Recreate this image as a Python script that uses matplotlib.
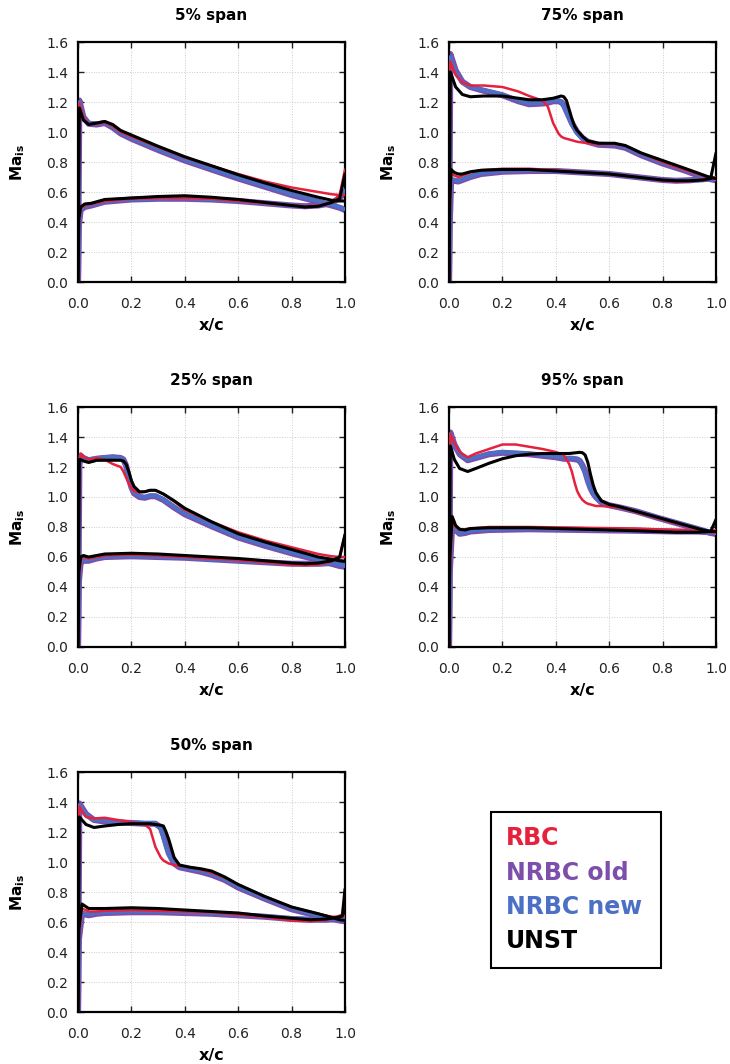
import matplotlib
matplotlib.use('Agg')
import matplotlib.pyplot as plt
from matplotlib.patches import Rectangle

plt.rcParams['font.family'] = ['DejaVu Sans']
plt.rcParams['mathtext.fontset'] = 'custom'
plt.rcParams['mathtext.rm'] = 'DejaVu Sans'
plt.rcParams['mathtext.bf'] = 'DejaVu Sans:bold'

# ── isentropic Mach number, suction side (SS) and pressure side (PS) ─────────
# 5% span
X_SS_05 = [0, 0.005, 0.02, 0.04, 0.07, 0.1, 0.13, 0.16, 0.2, 0.3, 0.4, 0.5,
           0.6, 0.7, 0.8, 0.9, 0.95, 0.98, 1.0]
RBC_SS_05 = [0, 1.19, 1.10, 1.05, 1.055, 1.065, 1.04, 1.00, 0.97, 0.90, 0.83,
             0.775, 0.72, 0.67, 0.63, 0.60, 0.585, 0.58, 0.58]
OLD_SS_05 = [0, 1.21, 1.10, 1.055, 1.05, 1.06, 1.03, 0.99, 0.955, 0.88, 0.81,
             0.75, 0.69, 0.635, 0.58, 0.535, 0.51, 0.495, 0.48]
NEW_SS_05 = [0, 1.20, 1.10, 1.06, 1.055, 1.065, 1.035, 0.995, 0.96, 0.885,
             0.815, 0.755, 0.695, 0.64, 0.585, 0.54, 0.515, 0.50, 0.485]
UNST_SS_05 = [0, 1.16, 1.08, 1.05, 1.06, 1.07, 1.05, 1.01, 0.98, 0.905, 0.835,
              0.775, 0.715, 0.66, 0.61, 0.565, 0.545, 0.54, 0.54]
X_PS_05 = [0, 0.003, 0.01, 0.025, 0.05, 0.1, 0.2, 0.3, 0.4, 0.5, 0.6, 0.7,
           0.8, 0.85, 0.9, 0.95, 0.98, 1.0]
RBC_PS_05 = [0, 0.40, 0.49, 0.51, 0.52, 0.54, 0.555, 0.56, 0.56, 0.555, 0.54,
             0.525, 0.51, 0.505, 0.51, 0.53, 0.58, 0.75]
OLD_PS_05 = [0, 0.38, 0.48, 0.50, 0.51, 0.535, 0.55, 0.555, 0.555, 0.55, 0.54,
             0.525, 0.51, 0.505, 0.51, 0.525, 0.56, 0.60]
NEW_PS_05 = [0, 0.39, 0.485, 0.505, 0.515, 0.54, 0.55, 0.555, 0.56, 0.55, 0.54,
             0.525, 0.51, 0.505, 0.51, 0.53, 0.57, 0.61]
UNST_PS_05 = [0, 0.42, 0.50, 0.52, 0.525, 0.55, 0.56, 0.57, 0.575, 0.565, 0.55,
              0.53, 0.51, 0.50, 0.505, 0.53, 0.555, 0.72]

# 25% span
X_SS_25 = [0, 0.005, 0.01, 0.02, 0.04, 0.07, 0.1, 0.13, 0.16, 0.17, 0.18, 0.19,
           0.2, 0.21, 0.23, 0.25, 0.27, 0.29, 0.32, 0.36, 0.4, 0.5, 0.6, 0.7,
           0.8, 0.9, 0.95, 0.98, 1.0]
RBC_SS_25 = [0, 1.22, 1.29, 1.27, 1.25, 1.26, 1.25, 1.22, 1.20, 1.17, 1.13,
             1.09, 1.06, 1.04, 1.03, 1.035, 1.045, 1.045, 1.02, 0.97, 0.915,
             0.835, 0.765, 0.71, 0.665, 0.62, 0.605, 0.60, 0.60]
OLD_SS_25 = [0, 1.21, 1.275, 1.26, 1.245, 1.255, 1.26, 1.265, 1.26, 1.25, 1.21,
             1.13, 1.065, 1.025, 1.0, 0.995, 1.005, 1.005, 0.98, 0.93, 0.885,
             0.805, 0.73, 0.675, 0.625, 0.58, 0.555, 0.54, 0.535]
NEW_SS_25 = [0, 1.20, 1.28, 1.265, 1.25, 1.26, 1.265, 1.265, 1.26, 1.25, 1.20,
             1.12, 1.06, 1.03, 1.005, 1.00, 1.01, 1.01, 0.985, 0.935, 0.89,
             0.81, 0.735, 0.68, 0.63, 0.585, 0.56, 0.545, 0.54]
UNST_SS_25 = [0, 1.25, 1.25, 1.24, 1.23, 1.245, 1.245, 1.245, 1.245, 1.24,
              1.22, 1.17, 1.11, 1.07, 1.035, 1.035, 1.045, 1.045, 1.02, 0.975,
              0.925, 0.835, 0.755, 0.70, 0.65, 0.60, 0.585, 0.575, 0.57]
X_PS_25 = [0, 0.003, 0.01, 0.02, 0.04, 0.07, 0.1, 0.2, 0.3, 0.4, 0.5, 0.6, 0.7,
           0.8, 0.85, 0.9, 0.95, 0.98, 1.0]
RBC_PS_25 = [0, 0.45, 0.58, 0.60, 0.59, 0.60, 0.61, 0.615, 0.61, 0.60, 0.59,
             0.58, 0.565, 0.55, 0.545, 0.55, 0.57, 0.60, 0.75]
OLD_PS_25 = [0, 0.43, 0.565, 0.575, 0.575, 0.59, 0.60, 0.605, 0.60, 0.595,
             0.585, 0.575, 0.565, 0.555, 0.555, 0.555, 0.56, 0.57, 0.56]
NEW_PS_25 = [0, 0.44, 0.57, 0.58, 0.58, 0.595, 0.60, 0.605, 0.60, 0.595, 0.585,
             0.575, 0.565, 0.555, 0.555, 0.555, 0.56, 0.57, 0.55]
UNST_PS_25 = [0, 0.50, 0.60, 0.61, 0.60, 0.61, 0.62, 0.625, 0.62, 0.61, 0.60,
              0.59, 0.575, 0.56, 0.555, 0.56, 0.575, 0.60, 0.75]

# 50% span
X_SS_50 = [0, 0.005, 0.03, 0.06, 0.1, 0.15, 0.2, 0.25, 0.27, 0.29, 0.31, 0.32,
           0.33, 0.34, 0.36, 0.38, 0.42, 0.46, 0.5, 0.55, 0.6, 0.7, 0.8, 0.9,
           0.95, 0.98, 1.0]
RBC_SS_50 = [0, 1.37, 1.30, 1.29, 1.295, 1.28, 1.265, 1.25, 1.22, 1.10, 1.03,
             1.01, 1.0, 0.99, 0.98, 0.975, 0.965, 0.95, 0.93, 0.895, 0.85, 0.77,
             0.70, 0.655, 0.635, 0.635, 0.64]
OLD_SS_50 = [0, 1.39, 1.32, 1.28, 1.27, 1.265, 1.26, 1.255, 1.255, 1.255, 1.23,
             1.18, 1.12, 1.06, 0.99, 0.965, 0.95, 0.935, 0.915, 0.88, 0.83,
             0.755, 0.685, 0.64, 0.62, 0.61, 0.605]
NEW_SS_50 = [0, 1.38, 1.32, 1.28, 1.275, 1.27, 1.265, 1.26, 1.26, 1.26, 1.22,
             1.16, 1.10, 1.05, 0.99, 0.97, 0.955, 0.94, 0.92, 0.885, 0.835,
             0.76, 0.69, 0.645, 0.625, 0.615, 0.61]
UNST_SS_50 = [0, 1.30, 1.25, 1.23, 1.24, 1.25, 1.255, 1.255, 1.255, 1.25,
              1.245, 1.24, 1.20, 1.15, 1.03, 0.98, 0.965, 0.955, 0.94, 0.90,
              0.85, 0.77, 0.70, 0.655, 0.63, 0.615, 0.61]
X_PS_50 = [0, 0.003, 0.015, 0.04, 0.07, 0.1, 0.2, 0.3, 0.4, 0.5, 0.6, 0.7, 0.8,
           0.87, 0.93, 0.97, 0.99, 1.0]
RBC_PS_50 = [0, 0.50, 0.69, 0.67, 0.67, 0.675, 0.68, 0.675, 0.67, 0.665, 0.65,
             0.635, 0.61, 0.605, 0.615, 0.635, 0.65, 0.78]
OLD_PS_50 = [0, 0.48, 0.655, 0.645, 0.655, 0.66, 0.665, 0.665, 0.66, 0.655,
             0.645, 0.635, 0.62, 0.615, 0.615, 0.62, 0.62, 0.62]
NEW_PS_50 = [0, 0.49, 0.66, 0.65, 0.66, 0.665, 0.67, 0.67, 0.665, 0.66, 0.65,
             0.64, 0.625, 0.62, 0.62, 0.625, 0.63, 0.63]
UNST_PS_50 = [0, 0.55, 0.72, 0.69, 0.69, 0.69, 0.695, 0.69, 0.68, 0.67, 0.66,
              0.64, 0.625, 0.615, 0.62, 0.63, 0.64, 0.82]

# 75% span
X_SS_75 = [0, 0.005, 0.025, 0.05, 0.08, 0.13, 0.2, 0.26, 0.3, 0.35, 0.37, 0.39,
           0.41, 0.42, 0.43, 0.44, 0.45, 0.46, 0.47, 0.48, 0.5, 0.52, 0.56,
           0.62, 0.66, 0.72, 0.8, 0.88, 0.95, 0.98, 1.0]
RBC_SS_75 = [0, 1.47, 1.38, 1.33, 1.31, 1.31, 1.30, 1.27, 1.24, 1.21, 1.17,
             1.06, 0.99, 0.97, 0.96, 0.955, 0.95, 0.945, 0.94, 0.935, 0.93,
             0.925, 0.92, 0.92, 0.91, 0.86, 0.80, 0.75, 0.71, 0.695, 0.69]
OLD_SS_75 = [0, 1.52, 1.41, 1.335, 1.30, 1.275, 1.245, 1.205, 1.185, 1.19,
             1.195, 1.205, 1.205, 1.20, 1.18, 1.14, 1.10, 1.06, 1.03, 1.00,
             0.96, 0.935, 0.915, 0.91, 0.895, 0.845, 0.79, 0.745, 0.70, 0.685,
             0.68]
NEW_SS_75 = [0, 1.50, 1.40, 1.33, 1.30, 1.28, 1.25, 1.21, 1.19, 1.195, 1.20,
             1.21, 1.21, 1.20, 1.17, 1.13, 1.09, 1.05, 1.02, 0.99, 0.955, 0.935,
             0.92, 0.915, 0.90, 0.85, 0.795, 0.75, 0.705, 0.69, 0.685]
UNST_SS_75 = [0, 1.40, 1.30, 1.25, 1.235, 1.24, 1.24, 1.225, 1.215, 1.215,
              1.22, 1.225, 1.235, 1.24, 1.235, 1.21, 1.15, 1.09, 1.04, 1.01,
              0.97, 0.94, 0.925, 0.925, 0.91, 0.86, 0.81, 0.76, 0.715, 0.695,
              0.69]
X_PS_75 = [0, 0.003, 0.008, 0.02, 0.035, 0.05, 0.08, 0.12, 0.2, 0.3, 0.4, 0.5,
           0.6, 0.7, 0.8, 0.85, 0.9, 0.95, 0.98, 1.0]
RBC_PS_75 = [0, 0.45, 0.72, 0.71, 0.70, 0.71, 0.73, 0.745, 0.755, 0.755, 0.745,
             0.73, 0.72, 0.70, 0.675, 0.67, 0.672, 0.685, 0.695, 0.70]
OLD_PS_75 = [0, 0.40, 0.68, 0.675, 0.67, 0.68, 0.70, 0.72, 0.735, 0.74, 0.74,
             0.73, 0.72, 0.70, 0.68, 0.675, 0.678, 0.685, 0.69, 0.68]
NEW_PS_75 = [0, 0.42, 0.69, 0.68, 0.675, 0.685, 0.705, 0.725, 0.74, 0.745,
             0.74, 0.73, 0.72, 0.70, 0.68, 0.675, 0.678, 0.685, 0.69, 0.685]
UNST_PS_75 = [0, 0.55, 0.75, 0.73, 0.72, 0.72, 0.735, 0.745, 0.75, 0.75, 0.74,
              0.73, 0.72, 0.70, 0.68, 0.675, 0.675, 0.68, 0.69, 0.86]

# 95% span
X_SS_95 = [0, 0.005, 0.02, 0.04, 0.07, 0.1, 0.15, 0.2, 0.25, 0.3, 0.35, 0.4,
           0.43, 0.45, 0.46, 0.47, 0.48, 0.49, 0.5, 0.51, 0.52, 0.53, 0.54,
           0.55, 0.57, 0.6, 0.64, 0.7, 0.78, 0.86, 0.94, 0.98, 1.0]
RBC_SS_95 = [0, 1.42, 1.36, 1.30, 1.265, 1.29, 1.32, 1.35, 1.35, 1.335, 1.32,
             1.30, 1.28, 1.22, 1.17, 1.10, 1.04, 1.005, 0.98, 0.965, 0.955,
             0.95, 0.945, 0.94, 0.94, 0.935, 0.93, 0.90, 0.86, 0.82, 0.785,
             0.765, 0.76]
OLD_SS_95 = [0, 1.43, 1.35, 1.285, 1.245, 1.26, 1.285, 1.295, 1.29, 1.285,
             1.275, 1.265, 1.255, 1.255, 1.255, 1.252, 1.25, 1.24, 1.21, 1.17,
             1.11, 1.06, 1.025, 1.0, 0.965, 0.945, 0.93, 0.905, 0.862, 0.822,
             0.782, 0.76, 0.755]
NEW_SS_95 = [0, 1.42, 1.35, 1.29, 1.25, 1.265, 1.29, 1.30, 1.295, 1.29, 1.28,
             1.27, 1.26, 1.26, 1.26, 1.258, 1.255, 1.245, 1.20, 1.16, 1.10,
             1.05, 1.02, 0.995, 0.965, 0.945, 0.93, 0.905, 0.865, 0.825, 0.785,
             0.765, 0.76]
UNST_SS_95 = [0, 1.34, 1.25, 1.19, 1.17, 1.19, 1.225, 1.255, 1.275, 1.285,
              1.29, 1.29, 1.29, 1.29, 1.292, 1.294, 1.296, 1.298, 1.295, 1.28,
              1.23, 1.15, 1.08, 1.03, 0.975, 0.95, 0.935, 0.905, 0.865, 0.825,
              0.785, 0.77, 0.77]
X_PS_95 = [0, 0.003, 0.012, 0.025, 0.04, 0.06, 0.08, 0.15, 0.3, 0.5, 0.7, 0.85,
           0.93, 0.98, 1.0]
RBC_PS_95 = [0, 0.50, 0.83, 0.80, 0.78, 0.785, 0.79, 0.80, 0.80, 0.795, 0.79,
             0.78, 0.775, 0.77, 0.78]
OLD_PS_95 = [0, 0.50, 0.82, 0.78, 0.755, 0.76, 0.77, 0.78, 0.785, 0.78, 0.775,
             0.77, 0.77, 0.765, 0.755]
NEW_PS_95 = [0, 0.50, 0.83, 0.785, 0.76, 0.765, 0.775, 0.785, 0.79, 0.785,
             0.775, 0.77, 0.77, 0.765, 0.76]
UNST_PS_95 = [0, 0.60, 0.87, 0.81, 0.785, 0.78, 0.79, 0.795, 0.795, 0.785,
              0.775, 0.765, 0.765, 0.77, 0.85]

CASES = ['NRBC old', 'NRBC new', 'RBC', 'UNST']   # drawing order
COLORS = {'RBC': '#e5213d', 'NRBC old': '#7d4fab',
          'NRBC new': '#4b70c6', 'UNST': '#000000'}
WIDTHS = {'RBC': 1.8, 'NRBC old': 4.4, 'NRBC new': 2.8, 'UNST': 2.2}

PANELS = [
    ('5% span', X_SS_05, X_PS_05,
     {'RBC': (RBC_SS_05, RBC_PS_05), 'NRBC old': (OLD_SS_05, OLD_PS_05),
      'NRBC new': (NEW_SS_05, NEW_PS_05), 'UNST': (UNST_SS_05, UNST_PS_05)}),
    ('75% span', X_SS_75, X_PS_75,
     {'RBC': (RBC_SS_75, RBC_PS_75), 'NRBC old': (OLD_SS_75, OLD_PS_75),
      'NRBC new': (NEW_SS_75, NEW_PS_75), 'UNST': (UNST_SS_75, UNST_PS_75)}),
    ('25% span', X_SS_25, X_PS_25,
     {'RBC': (RBC_SS_25, RBC_PS_25), 'NRBC old': (OLD_SS_25, OLD_PS_25),
      'NRBC new': (NEW_SS_25, NEW_PS_25), 'UNST': (UNST_SS_25, UNST_PS_25)}),
    ('95% span', X_SS_95, X_PS_95,
     {'RBC': (RBC_SS_95, RBC_PS_95), 'NRBC old': (OLD_SS_95, OLD_PS_95),
      'NRBC new': (NEW_SS_95, NEW_PS_95), 'UNST': (UNST_SS_95, UNST_PS_95)}),
    ('50% span', X_SS_50, X_PS_50,
     {'RBC': (RBC_SS_50, RBC_PS_50), 'NRBC old': (OLD_SS_50, OLD_PS_50),
      'NRBC new': (NEW_SS_50, NEW_PS_50), 'UNST': (UNST_SS_50, UNST_PS_50)}),
]

# axes rectangles in figure fractions (left, bottom, width, height)
W, H = 730, 1064
LEFTS = [78 / W, 449 / W]
TOPS = [42, 407, 772]
AX_W, AX_H = 267 / W, 240 / H


def draw_panel(ax, title, xs_ss, xs_ps, series):
    for k, case in enumerate(CASES):
        ss, ps = series[case]
        for xs, ys in ((xs_ss, ss), (xs_ps, ps)):
            ax.plot(xs, ys, color=COLORS[case], lw=WIDTHS[case],
                    solid_joinstyle='round', solid_capstyle='round',
                    zorder=2 + k)
    ax.set_xlim(0, 1)
    ax.set_ylim(0, 1.6)
    ax.set_xticks([0, 0.2, 0.4, 0.6, 0.8, 1.0])
    ax.set_yticks([0, 0.2, 0.4, 0.6, 0.8, 1.0, 1.2, 1.4, 1.6])
    ax.set_xticklabels([f'{v:.1f}' for v in ax.get_xticks()])
    ax.set_yticklabels([f'{v:.1f}' for v in ax.get_yticks()])
    ax.tick_params(direction='in', top=True, right=True, length=4,
                   width=1, labelsize=10, colors='#222222')
    ax.tick_params(axis='y', pad=7)
    ax.tick_params(axis='x', pad=11)
    ax.grid(True, color='#cccccc', linestyle=':', linewidth=0.7)
    for sp in ax.spines.values():
        sp.set_linewidth(1.6)
    ax.set_title(title, fontsize=11, fontweight='bold', pad=16)
    ax.set_xlabel('x/c', fontsize=11.5, fontweight='bold', labelpad=5)
    ax.set_ylabel(r'Ma$_{\mathbf{is}}$', fontsize=11, fontweight='bold',
                  labelpad=14)


fig = plt.figure(figsize=(W / 100, H / 100), dpi=100)
for i, (title, xs_ss, xs_ps, series) in enumerate(PANELS):
    row, col = divmod(i, 2)
    bottom = (H - TOPS[row] - 240) / H
    ax = fig.add_axes([LEFTS[col], bottom, AX_W, AX_H])
    draw_panel(ax, title, xs_ss, xs_ps, series)

# legend box with coloured labels
fig.patches.append(Rectangle((491 / W, 1 - 968 / H), 170 / W, 156 / H,
                             transform=fig.transFigure, fill=False,
                             edgecolor='black', linewidth=1.5))
for j, name in enumerate(['RBC', 'NRBC old', 'NRBC new', 'UNST']):
    fig.text(506 / W, 1 - (838 + 34.5 * j) / H, name, color=COLORS[name],
             fontsize=17, fontweight='bold', va='center', ha='left')

fig.savefig('out.png', dpi=100)
